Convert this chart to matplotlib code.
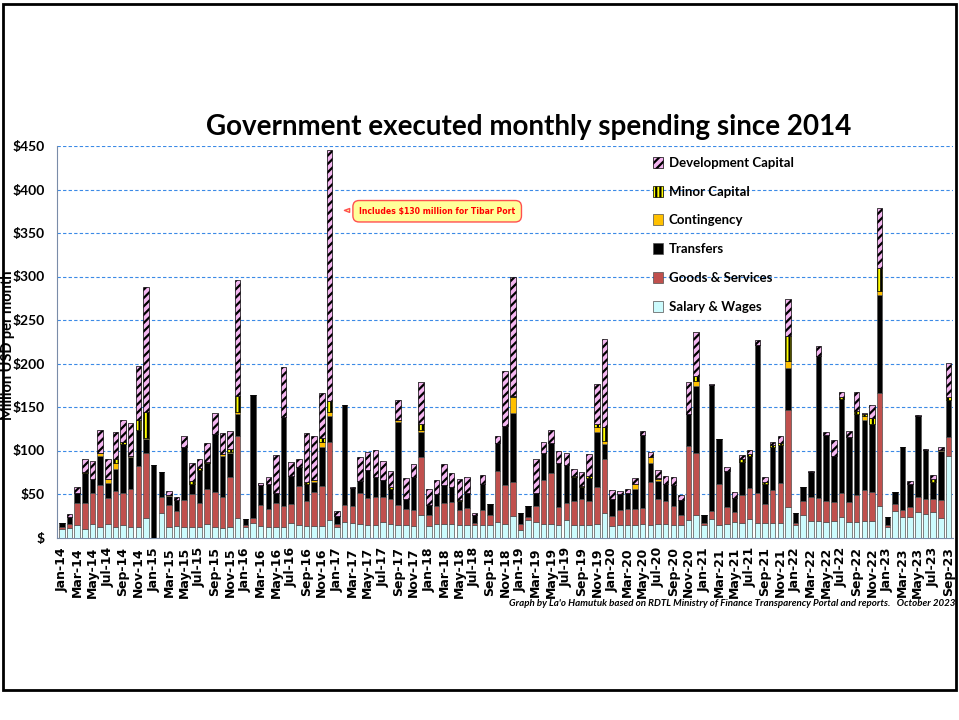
import matplotlib
matplotlib.use('Agg')
import matplotlib.pyplot as plt
from matplotlib.patches import Rectangle
import numpy as np
import pandas as pd

# monthly spending, million USD, Jan-14 .. Sep-23
months = pd.date_range('2014-01-01', '2023-09-01', freq='MS').strftime('%b-%y').tolist()

salary = [10, 11, 14, 10, 15, 11.5, 15, 11.5, 14, 12.6, 12.6, 22, 0, 28, 12,
          13.4, 12.6, 12.6, 12.6, 16, 12.6, 11, 12.6, 22, 12, 17, 13.4, 12, 12,
          12.5, 17, 14, 13.6, 13.6, 13.6, 20, 11.7, 17.4, 17, 16, 14, 14, 17.4, 16,
          14, 14, 13.4, 26.4, 13.4, 15, 15, 15.3, 14, 14, 14, 14.6, 14.6, 18,
          16, 24.5, 8.4, 20, 18, 16, 15, 14, 20, 14.6, 14.6, 14.6, 15, 27.6,
          13, 14, 14, 14, 15.3, 14, 15.3, 15.3, 14, 14, 20, 25.7, 14, 20.7, 14.5,
          16, 17.8, 17, 21, 17, 17, 17, 17, 35, 14.4, 26, 19.3, 19.3, 18,
          19, 23, 18, 18, 19.3, 19.3, 36, 11.7, 31, 23, 23, 29.7, 26.6, 29.7, 22.8, 94]
goods = [2, 4, 26, 30, 36, 48.5, 30, 42.5, 37, 43, 69.4, 75, 0, 19, 25,
         17.6, 30.4, 37.4, 27, 39.5, 40, 36, 56.4, 95, 2, 5, 23.6, 20.5, 28,
         23.5, 21.5, 45.5, 28.4, 39.1, 45.4, 90, 4.3, 19.6, 19, 35.5, 31, 32.5, 29.6, 28.6,
         23, 18.5, 18, 65.6, 12.3, 21, 24.5, 25.7, 18, 19.7, 3, 16.8, 11.8, 58,
         44, 39.5, 6.6, 3.8, 18, 50, 59, 20.5, 20, 27.4, 29.1, 27.4, 43, 62.4,
         11.5, 17.4, 19.3, 19.3, 18.7, 49.6, 28.4, 27.2, 22, 11.7, 85, 71.3, 3, 9.3, 47,
         18.7, 11.9, 32, 35.5, 34.5, 22, 37.6, 46, 111.5, 2.6, 16, 26.7, 25.7, 24,
         22, 28, 23, 31, 35.3, 32.7, 130.5, 2.7, 8, 8.6, 12.4, 17.3, 17.1, 14.9, 20.2, 21.5]
transfers = [5, 8, 11, 34, 16, 33.5, 18, 25, 56, 36.5, 42, 16, 83, 28, 10.5,
             12, 61, 11, 38.5, 30.5, 66.5, 46.5, 28, 25.5, 7.5, 142, 23, 28.5, 11,
             103, 32, 21.2, 20, 11.3, 45, 30, 8.7, 115, 21, 13.5, 33, 23.5, 19, 11.4,
             96, 11.2, 37.6, 29, 11.3, 14, 20.5, 16.5, 10, 17.3, 8.7, 29.6, 11.6, 33,
             67.6, 79, 12.6, 12.6, 15, 31, 35, 51.5, 43, 28, 13.8, 26, 63.5, 18,
             19.2, 18.6, 17.7, 22.7, 84, 22.4, 21.3, 18.5, 24, 17.3, 37, 77, 9.4, 145, 51.5,
             42.3, 15.3, 38, 37.2, 169.5, 22, 49, 43, 48, 10.8, 16.4, 29, 164, 76,
             52.7, 108, 74, 93, 80.4, 79, 112.5, 8.8, 13.3, 72.8, 26.6, 92.7, 56.9, 19.4, 56.4, 42.5]
contingency = [0, 0, 0, 0, 0, 3.5, 4.5, 7, 0, 2, 0, 1.5, 0, 0, 1.5,
               0, 0, 0, 0, 0, 0, 2.5, 1.5, 2, 0, 0, 0, 0, 0,
               0, 0, 0, 0, 2, 6, 4.6, 0, 0, 0, 0, 0, 0, 0, 0,
               2, 0, 0, 3, 0, 0, 0, 0, 0, 0, 0, 0, 0, 0,
               0, 18, 0, 0, 0, 0, 0, 0, 0, 0, 0, 0, 5.5, 3,
               0, 0, 0, 6, 0, 6, 1.7, 0, 0, 0, 0, 6, 0, 0, 0,
               0, 0, 0, 0, 0, 0, 0, 0, 8.6, 0, 0, 0, 0, 0,
               0, 0, 0, 0, 4.6, 0, 4, 0, 0, 0, 0, 0, 0, 0, 1.6, 0]
minor = [0, 0, 0, 1, 0, 0, 0, 4, 3, 0, 11, 29.5, 0, 0, 0,
         0, 0, 4, 2, 1, 0, 0, 3, 18, 0, 0, 0, 0, 0,
         0, 0, 0, 2, 0, 4, 12.4, 0, 0, 0, 0, 0, 0, 0, 1.7,
         0, 0, 0, 7, 0, 0, 0, 0, 1, 0, 0, 0, 0, 0,
         0, 1.5, 0, 0, 0, 0, 0, 0, 0, 1, 1.9, 2.5, 3, 16,
         0, 0, 0, 0, 0, 0, 1.3, 0, 0, 0, 0, 6, 0, 0, 0,
         0, 0, 3, 2.3, 0, 3, 2.4, 3, 29, 0, 0, 0, 0, 0,
         0, 2, 0, 3, 2.4, 6.7, 27, 0, 0, 0, 0, 0, 0, 3, 0, 3]
development = [0, 4, 7, 15, 21, 26, 22.5, 31, 25, 38, 62, 144.5, 0, 0, 4,
               3, 13, 21, 10, 22, 23.5, 24, 20.5, 134, 0, 0, 3, 9, 44,
               57, 16.5, 9.3, 56, 51, 52.5, 288, 6.3, 0, 1, 27, 20, 31, 22, 18.3,
               22.5, 24.3, 16, 48, 18.5, 16, 25, 16.1, 23.7, 18, 3, 11, 0, 8,
               63.4, 136.5, 0, 0, 38.7, 13, 15, 13.6, 14, 7.5, 15.6, 26, 46, 101,
               11.3, 3, 5, 6, 4.6, 6.5, 10, 10, 9, 5.7, 36.5, 50, 0, 1, 0,
               4, 7.7, 5, 4.6, 6, 6, 4, 8, 41.7, 0, 0, 1, 11.5, 3,
               18.3, 6.6, 7.6, 22.6, 0.7, 14.3, 68.4, 0, 0, 0, 3, 0.7, 1.4, 4.4, 2.6, 40]

series = [
    ('Salary & Wages', salary, '#ccfbfd', None),
    ('Goods & Services', goods, '#c0504d', None),
    ('Transfers', transfers, '#000000', None),
    ('Contingency', contingency, '#ffc000', None),
    ('Minor Capital', minor, '#ffff00', '||||'),
    ('Development Capital', development, '#f4b6f0', '////'),
]

plt.rcParams['hatch.linewidth'] = 1.6
fig = plt.figure(figsize=(9.59, 7.2), dpi=100)
ax = fig.add_axes([57 / 959, 1 - 537.5 / 720, 896 / 959, 391.5 / 720])

x = np.arange(len(months))
bottom = np.zeros(len(months))
bars = []
for name, vals, col, hatch in series:
    vals = np.array(vals, dtype=float)
    ec = 'black' if hatch else '#505050'
    b = ax.bar(x, vals, 0.72, bottom=bottom, color=col, edgecolor=ec,
               linewidth=0.5, hatch=hatch, label=name, zorder=3)
    bars.append(b)
    bottom += vals

ax.set_xlim(-0.65, 116.6)
ax.set_ylim(0, 450)
ax.set_yticks(np.arange(0, 451, 50))
ax.set_yticklabels(['$'] + ['$%d' % v for v in range(50, 451, 50)],
                   fontsize=10, fontweight='bold', family='Lato')
ax.set_xticks(x[::2])
ax.set_xticklabels(months[::2], rotation=90, fontsize=9, fontweight='bold')
ax.tick_params(axis='x', length=0, pad=7)
ax.tick_params(axis='y', length=0, pad=9)
ax.grid(axis='y', color='#3b8ae6', linestyle=(0, (3, 2)), linewidth=0.8, zorder=0)
for s in ['top', 'right']:
    ax.spines[s].set_visible(False)
for s in ['left', 'bottom']:
    ax.spines[s].set_color('#7a8ca8')

fig.text(8 / 959, 1 - 345 / 720, 'Million USD per month', rotation=90,
         ha='center', va='center', fontsize=10.5, fontweight='bold', family='Lato')
fig.text(529 / 959, 1 - 127 / 720, 'Government executed monthly spending since 2014',
         ha='center', va='center', fontsize=20, fontweight='bold', family='Lato')
fig.text(955 / 959, 1 - 604 / 720,
         "Graph by La'o Hamutuk based on RDTL Ministry of Finance Transparency Portal and reports.   October 2023",
         ha='right', va='center', fontsize=7, style='italic', fontweight='bold', family='Lato')

ax.annotate('Includes $130 million for Tibar Port', xy=(36.6, 376), xytext=(49.1, 375),
            ha='center', va='center', fontsize=5.6, color='red', fontweight='bold',
            bbox=dict(boxstyle='round,pad=0.8', fc='#ffff99', ec='#ff5050', lw=1),
            arrowprops=dict(arrowstyle='wedge,tail_width=0.5', fc='#ffff99', ec='#ff5050'),
            zorder=5)

leg = ax.legend(bars[::-1], [s[0] for s in series][::-1], loc='upper left',
                bbox_to_anchor=(641 / 959, 1 - 145 / 720), bbox_transform=fig.transFigure,
                frameon=False, labelspacing=1.27, handlelength=0.8,
                handleheight=0.9, handletextpad=0.4,
                prop={'family': 'Lato', 'size': 9.5, 'weight': 'bold'})

fig.patches.append(Rectangle((3 / 959, 1 - 690 / 720), 953 / 959, 686 / 720,
                             transform=fig.transFigure, fill=False, ec='black', lw=2))

fig.savefig('out.png', dpi=100)
